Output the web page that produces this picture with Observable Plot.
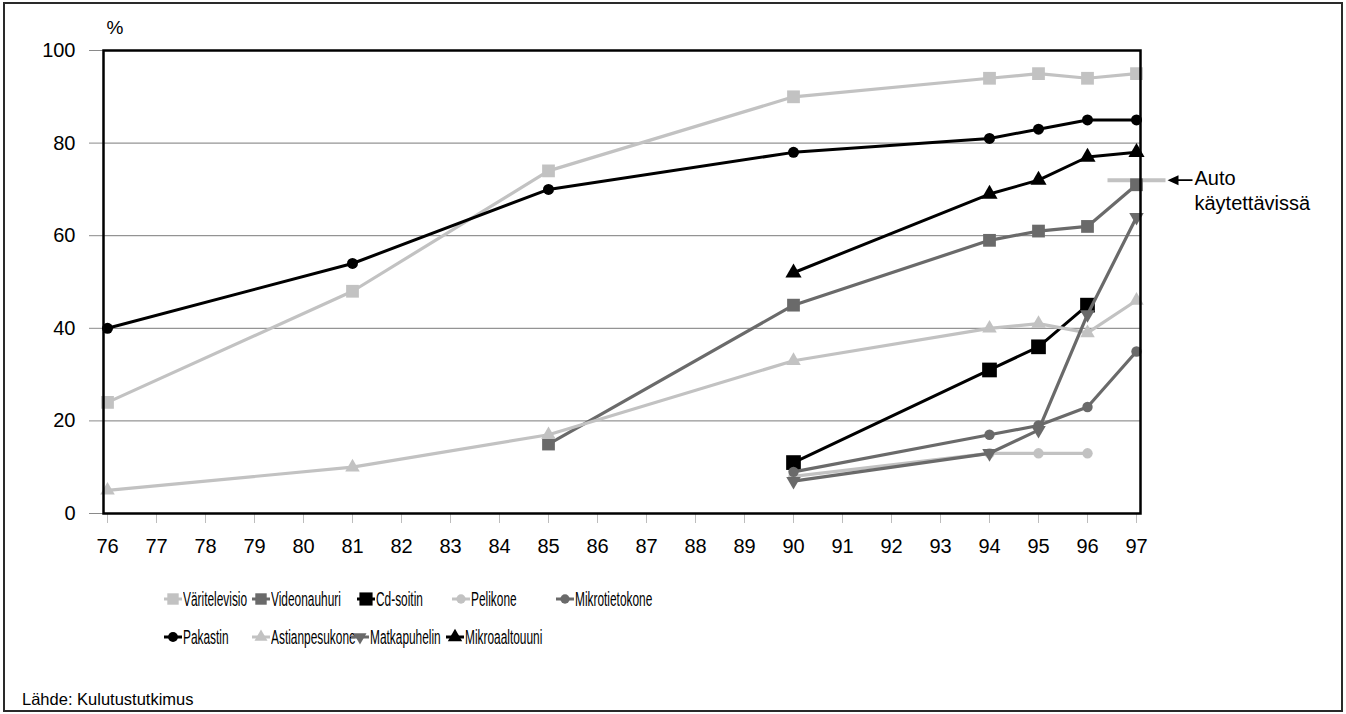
<!DOCTYPE html>
<html>
<head>
<meta charset="utf-8">
<script src="https://cdn.jsdelivr.net/npm/d3@7"></script>
<script src="https://cdn.jsdelivr.net/npm/@observablehq/plot@0.6"></script>
<style>
  body { margin: 0; background: #fff; font-family: "Liberation Sans", Arial, sans-serif; }
  #wrap { position: relative; width: 1346px; height: 714px; overflow: hidden; background: #fff; }
  #border { position: absolute; left: 3px; top: 2px; width: 1340px; height: 710px; border: 2px solid #2a2a2a; box-sizing: border-box; pointer-events: none; }
  #chart { position: absolute; left: 0; top: 0; }
  .leg { position: absolute; height: 20px; display: flex; align-items: center; white-space: nowrap; }
  .leg svg { flex: none; }
  .leg span { display: inline-block; font-size: 20.5px; color: #000; transform: scaleX(0.58); transform-origin: left center; margin-left: 0px; }
  #source { position: absolute; left: 22px; top: 690px; font-size: 16.5px; color: #000; }
</style>
</head>
<body>
<div id="wrap">
  <div id="chart"></div>
  <div id="legend"></div>
  <div id="source"></div>
  <div id="border"></div>
</div>
<script>
// ---------- data ----------
const years = ["76","77","78","79","80","81","82","83","84","85","86","87","88","89","90","91","92","93","94","95","96","97"];
const yTicks = [0, 20, 40, 60, 80, 100];
const gridValues = [20, 40, 60, 80];
const seriesNames = ["Väritelevisio","Videonauhuri","Cd-soitin","Pelikone","Mikrotietokone","Pakastin","Astianpesukone","Matkapuhelin","Mikroaaltouuni"];

const longYears = ["76","81","85","90","94","95","96","97"];
const videoYears = ["85","90","94","95","96","97"];
const years90to96 = ["90","94","95","96"];
const years90to97 = ["90","94","95","96","97"];

const varitelevisio = [24, 48, 74, 90, 94, 95, 94, 95];
const videonauhuri = [15, 45, 59, 61, 62, 71];
const cdSoitin = [11, 31, 36, 45];
const pelikone = [8, 13, 13, 13];
const mikrotietokone = [9, 17, 19, 23, 35];
const pakastin = [40, 54, 70, 78, 81, 83, 85, 85];
const astianpesukone = [5, 10, 17, 33, 40, 41, 39, 46];
const matkapuhelin = [7, 13, 18, 43, 64];
const mikroaaltouuni = [52, 69, 72, 77, 78];

const autoYear = "97";
const autoValue = 72;
const autoLabel = "Auto\nkäytettävissä";
const unitLabel = "%";
const sourceText = "Lähde: Kulutustutkimus";

// ---------- build table ----------
const seriesYears = [longYears, videoYears, years90to96, years90to96, years90to97, longYears, longYears, years90to97, years90to97];
const seriesValues = [varitelevisio, videonauhuri, cdSoitin, pelikone, mikrotietokone, pakastin, astianpesukone, matkapuhelin, mikroaaltouuni];
const rows = [];
seriesNames.forEach((name, i) => seriesYears[i].forEach((yr, j) => rows.push({series: name, year: yr, value: seriesValues[i][j]})));

// ---------- styles ----------
const LIGHT = "#c2c2c2", DARK = "#6a6a6a", BLACK = "#000";
const triangleDown = {
  draw(context, size) {
    const y = -Math.sqrt(size / (Math.sqrt(3) * 3));
    context.moveTo(0, -y * 2);
    context.lineTo(-Math.sqrt(3) * y, y);
    context.lineTo(Math.sqrt(3) * y, y);
    context.closePath();
  }
};
const autoDash = { draw(ctx) { ctx.rect(-29, -2, 58, 4); } };
const arrowGlyph = {
  draw(ctx) {
    ctx.moveTo(31, 0); ctx.lineTo(42, -5); ctx.lineTo(42, 5); ctx.closePath();
    ctx.rect(41, -0.8, 15, 1.6);
  }
};
const style = {
  "Väritelevisio":  {color: LIGHT, symbol: "square",   r: 7.2, w: 3.2},
  "Videonauhuri":   {color: DARK,  symbol: "square",   r: 7.2, w: 3.2},
  "Cd-soitin":      {color: BLACK, symbol: "square",   r: 8.3, w: 3},
  "Pelikone":       {color: LIGHT, symbol: "circle",   r: 5.2, w: 3.2},
  "Mikrotietokone": {color: DARK,  symbol: "circle",   r: 5.2, w: 3.2},
  "Pakastin":       {color: BLACK, symbol: "circle",   r: 5.5, w: 3},
  "Astianpesukone": {color: LIGHT, symbol: "triangle", r: 5.4, w: 3.2},
  "Matkapuhelin":   {color: DARK,  symbol: triangleDown, r: 5.4, w: 3.2},
  "Mikroaaltouuni": {color: BLACK, symbol: "triangle", r: 6.0, w: 3}
};

// ---------- chart ----------
const marks = [
  Plot.ruleY(gridValues, {stroke: "#7a7a7a", strokeWidth: 1}),
  Plot.axisY({ticks: yTicks, tickSize: 14, tickPadding: 14, stroke: "#8a8a8a", fill: "#000", fontSize: 20, label: null}),
  Plot.axisX({tickSize: 10, tickPadding: 15, stroke: "#bdbdbd", fill: "#000", fontSize: 20, label: null}),
  Plot.dot([autoValue], {x: () => autoYear, y: d => d, symbol: autoDash, r: 1, fill: LIGHT, stroke: "none"}),
];
seriesNames.forEach(name => {
  const s = style[name];
  const data = rows.filter(d => d.series === name);
  marks.push(Plot.line(data, {x: "year", y: "value", stroke: s.color, strokeWidth: s.w, strokeLinejoin: "round"}));
  marks.push(Plot.dot(data, {x: "year", y: "value", symbol: s.symbol, r: s.r, fill: s.color, stroke: "none"}));
});
marks.push(
  Plot.frame({stroke: "#000", strokeWidth: 2.5}),
  Plot.dot([autoValue], {x: () => autoYear, y: d => d, symbol: arrowGlyph, r: 1, fill: "#000", stroke: "none"}),
  Plot.text([autoValue], {x: () => autoYear, y: d => d, text: () => autoLabel, textAnchor: "start", lineAnchor: "top", dx: 58, dy: -13, fontSize: 20, lineHeight: 1.25, fill: "#000"}),
  Plot.text([unitLabel], {frameAnchor: "top-left", dx: 3, dy: -30, fontSize: 19, fill: "#000"})
);

const chart = Plot.plot({
  width: 1346,
  height: 560,
  marginLeft: 103,
  marginRight: 206,
  marginTop: 50,
  marginBottom: 47,
  style: {fontFamily: "Liberation Sans, Arial, sans-serif", fontSize: "20px", background: "transparent", overflow: "visible"},
  x: {type: "point", domain: years, padding: 0},
  y: {domain: [0, 100]},
  marks
});
document.getElementById("chart").appendChild(chart);

// ---------- legend ----------
const legendPos = [
  [173, 599], [261, 599], [366, 599], [461, 599], [565, 599],
  [173, 637], [261, 637], [360, 637], [455, 637]
];
const legend = document.getElementById("legend");
seriesNames.forEach((name, i) => {
  const s = style[name];
  const div = document.createElement("div");
  div.className = "leg";
  div.style.left = (legendPos[i][0] - 10) + "px";
  div.style.top = (legendPos[i][1] - 10) + "px";
  const svg = d3.create("svg").attr("width", 20).attr("height", 20);
  svg.append("line").attr("x1", 1).attr("x2", 19).attr("y1", 10).attr("y2", 10).attr("stroke", s.color).attr("stroke-width", 3);
  const sym = typeof s.symbol === "string" ? {square: d3.symbolSquare, circle: d3.symbolCircle, triangle: d3.symbolTriangle}[s.symbol] : s.symbol;
  svg.append("path").attr("d", d3.symbol(sym, Math.PI * s.r * s.r * 0.8)()).attr("transform", "translate(10,10)").attr("fill", s.color);
  div.appendChild(svg.node());
  const span = document.createElement("span");
  span.textContent = name;
  div.appendChild(span);
  legend.appendChild(div);
});
document.getElementById("source").textContent = sourceText;
</script>
</body>
</html>
